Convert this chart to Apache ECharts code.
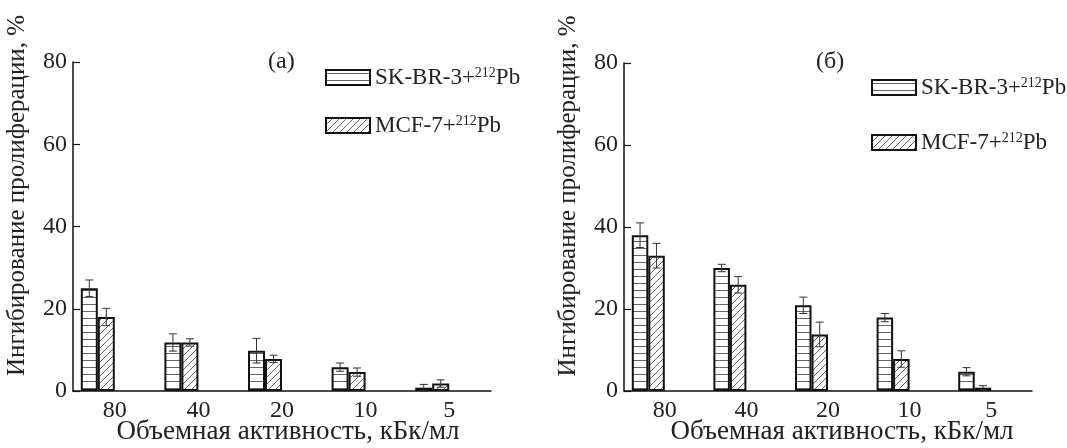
<!DOCTYPE html>
<html>
<head>
<meta charset="utf-8">
<script src="https://cdn.jsdelivr.net/npm/echarts@6/dist/echarts.min.js"></script>
<style>html,body{margin:0;padding:0;background:#fff}#c{width:1067px;height:448px}</style>
</head>
<body>
<div id="c"></div>
<script>
const categories = ['80', '40', '20', '10', '5'];
const yTicks = [0, 20, 40, 60, 80];
const seriesNames = ['SK-BR-3+212Pb', 'MCF-7+212Pb'];
// panel (а)
const skA = [25, 11.8, 9.8, 5.8, 0.8];
const skAErr = [2, 2.1, 3, 1, 0.8];
const mcfA = [18, 11.8, 7.8, 4.6, 1.8];
const mcfAErr = [2.1, 0.9, 0.9, 1, 0.9];
// panel (б)
const skB = [38, 30, 20.9, 17.9, 4.7];
const skBErr = [3, 0.9, 2, 1, 1];
const mcfB = [33, 25.9, 13.8, 7.8, 0.8];
const mcfBErr = [3, 2, 3, 2, 0.5];

const FONT = 'Liberation Serif';

function hPattern() {
  const c = document.createElement('canvas');
  c.width = 8; c.height = 7;
  const g = c.getContext('2d');
  g.fillStyle = '#fff'; g.fillRect(0, 0, 8, 7);
  g.strokeStyle = '#666'; g.lineWidth = 1;
  g.beginPath(); g.moveTo(0, 3.5); g.lineTo(8, 3.5); g.stroke();
  return c;
}
function dPattern() {
  const s = 7;
  const c = document.createElement('canvas');
  c.width = s; c.height = s;
  const g = c.getContext('2d');
  g.fillStyle = '#fff'; g.fillRect(0, 0, s, s);
  g.strokeStyle = '#666'; g.lineWidth = 1;
  g.beginPath();
  g.moveTo(-1, s + 1); g.lineTo(s + 1, -1);
  g.moveTo(-1, 1); g.lineTo(1, -1);
  g.moveTo(s - 1, s + 1); g.lineTo(s + 1, s - 1);
  g.stroke();
  return c;
}
const hFill = { image: hPattern(), repeat: 'repeat' };
const dFill = { image: dPattern(), repeat: 'repeat' };

const chart = echarts.init(document.getElementById('c'));

function axes(gi, nameShift) {
  return {
    x: {
      type: 'category', gridIndex: gi, data: categories,
      axisLine: { lineStyle: { color: '#111', width: 1.5 } },
      axisTick: { show: false },
      axisLabel: { fontFamily: FONT, fontSize: 24, color: '#222', margin: 8 },
      name: 'Объемная активность, кБк/мл', nameLocation: 'middle', nameGap: 27, nameMoveOverlap: false,
      nameTextStyle: { fontFamily: FONT, fontSize: 27, color: '#222', lineHeight: 27, padding: [0, 0, 0, nameShift] }
    },
    y: {
      type: 'value', gridIndex: gi, min: 0, max: 80, interval: 20,
      axisLine: { show: true, lineStyle: { color: '#111', width: 1.5 } },
      axisTick: { show: true, inside: true, length: 7, lineStyle: { color: '#111', width: 1.2 } },
      splitLine: { show: false },
      axisLabel: { fontFamily: FONT, fontSize: 24, color: '#222', margin: 6,
        formatter: v => yTicks.indexOf(v) >= 0 ? String(v) : '' },
      name: 'Ингибирование пролиферации, %', nameLocation: 'middle', nameGap: 43, nameRotate: 90, nameMoveOverlap: false,
      nameTextStyle: { fontFamily: FONT, fontSize: 25, color: '#222', padding: [0, 0, 0, 62] }
    }
  };
}
const a0 = axes(0, 12), a1 = axes(1, 28);

function bar(name, gi, data, fill, bw) {
  return {
    type: 'bar', name: name, xAxisIndex: gi, yAxisIndex: gi, data: data,
    barWidth: bw, barGap: '0%',
    itemStyle: { color: fill, borderColor: '#111', borderWidth: 2 },
    emphasis: { disabled: true }, z: 2
  };
}
function emptyBar(gi, bw) {
  return { type: 'bar', name: '', xAxisIndex: gi, yAxisIndex: gi, data: categories.map(() => null), barWidth: bw, barGap: '0%' };
}
function errBars(gi, vals, errs, shiftBars, bw) {
  return {
    type: 'custom', xAxisIndex: gi, yAxisIndex: gi, z: 5, silent: true,
    data: vals.map((v, i) => [i, v, errs[i]]),
    encode: { x: 0, y: 1 },
    renderItem: function (params, api) {
      const i = api.value(0), v = api.value(1), e = api.value(2);
      const t = api.coord([i, v + e]);
      const b = api.coord([i, v - e]);
      const x = t[0] + shiftBars * bw;
      const w = 4;
      const st = { stroke: '#333', lineWidth: 1 };
      return { type: 'group', children: [
        { type: 'line', shape: { x1: x, y1: t[1], x2: x, y2: b[1] }, style: st },
        { type: 'line', shape: { x1: x - w, y1: t[1], x2: x + w, y2: t[1] }, style: st },
        { type: 'line', shape: { x1: x - w, y1: b[1], x2: x + w, y2: b[1] }, style: st }
      ]};
    }
  };
}

const bwA = 17, bwB = 16.5;
const legendBase = {
  orient: 'vertical', itemWidth: 44, itemHeight: 15, selectedMode: false, padding: 0,
  icon: 'rect',
  data: seriesNames,
  formatter: n => n === seriesNames[0] ? '{t|SK-BR-3+}{s|212}{t|Pb}' : '{t|MCF-7+}{s|212}{t|Pb}',
  textStyle: { color: '#222', rich: {
    t: { fontFamily: FONT, fontSize: 23, color: '#222', lineHeight: 24 },
    s: { fontFamily: FONT, fontSize: 14, color: '#222', padding: [0, 0, 9, 0] }
  } }
};

chart.setOption({
  animation: false,
  backgroundColor: '#fff',
  title: [
    { text: '(а)', left: 263, top: 45, textStyle: { fontFamily: FONT, fontSize: 24, fontWeight: 'normal', color: '#222' } },
    { text: '(б)', left: 811, top: 45, textStyle: { fontFamily: FONT, fontSize: 24, fontWeight: 'normal', color: '#222' } }
  ],
  legend: [
    Object.assign({}, legendBase, { left: 325, top: 66, itemGap: 25 }),
    Object.assign({}, legendBase, { left: 871, top: 76, itemGap: 32 })
  ],
  grid: [
    { left: 73, right: 576, top: 62, bottom: 57, outerBoundsMode: 'none', containLabel: false },
    { left: 624, right: 35, top: 63, bottom: 57, outerBoundsMode: 'none', containLabel: false }
  ],
  xAxis: [a0.x, a1.x],
  yAxis: [a0.y, a1.y],
  series: [
    bar(seriesNames[0], 0, skA, hFill, bwA),
    bar(seriesNames[1], 0, mcfA, dFill, bwA),
    emptyBar(0, bwA), emptyBar(0, bwA),
    errBars(0, skA, skAErr, -1.5, bwA),
    errBars(0, mcfA, mcfAErr, -0.5, bwA),
    bar(seriesNames[0], 1, skB, hFill, bwB),
    bar(seriesNames[1], 1, mcfB, dFill, bwB),
    emptyBar(1, bwB), emptyBar(1, bwB),
    errBars(1, skB, skBErr, -1.5, bwB),
    errBars(1, mcfB, mcfBErr, -0.5, bwB)
  ]
});
</script>
</body>
</html>
